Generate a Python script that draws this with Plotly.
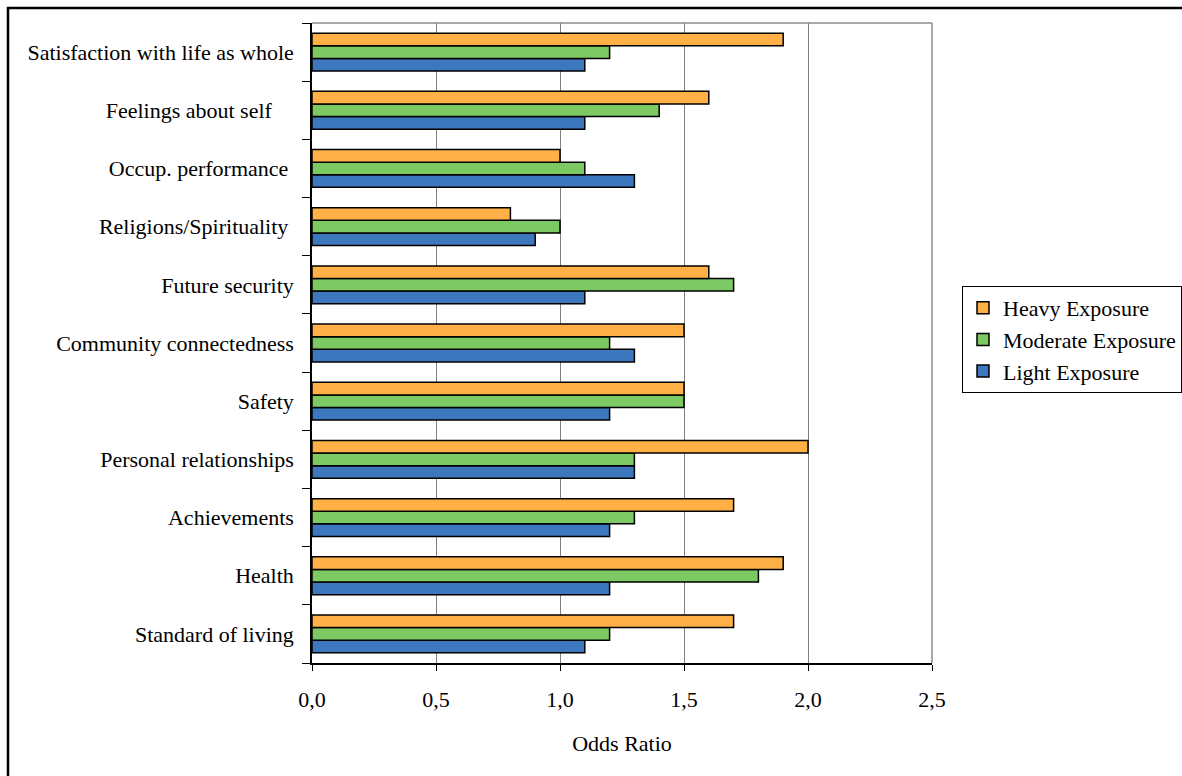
import plotly.graph_objects as go

# Quality-of-life domains, listed bottom to top as they appear on the axis
categories = [
    "Standard of living",
    "Health",
    "Achievements",
    "Personal relationships",
    "Safety",
    "Community connectedness",
    "Future security",
    "Religions/Spirituality",
    "Occup. performance",
    "Feelings about self",
    "Satisfaction with life as whole",
]

light = [1.1, 1.2, 1.2, 1.3, 1.2, 1.3, 1.1, 0.9, 1.3, 1.1, 1.1]
moderate = [1.2, 1.8, 1.3, 1.3, 1.5, 1.2, 1.7, 1.0, 1.1, 1.4, 1.2]
heavy = [1.7, 1.9, 1.7, 2.0, 1.5, 1.5, 1.6, 0.8, 1.0, 1.6, 1.9]

series_names = ["Light Exposure", "Moderate Exposure", "Heavy Exposure"]
x_ticks = [0.0, 0.5, 1.0, 1.5, 2.0, 2.5]

# trailing padding on a few labels, as in the original layout
pad = {"Feelings about self": 4, "Occup. performance": 1, "Religions/Spirituality": 1}
y_labels = [c + "\u00a0" * pad.get(c, 0) for c in categories]

colors = {"Light Exposure": "#3D77BD", "Moderate Exposure": "#7DC963", "Heavy Exposure": "#FFB047"}
FONT = "Liberation Serif, Times New Roman, serif"

W, H = 1182, 776
L, R, T, B = 312, 932, 23, 663

fig = go.Figure()
for name, vals in zip(series_names, [light, moderate, heavy]):
    fig.add_trace(go.Bar(
        y=y_labels, x=vals, name=name, orientation="h", legendgroup=name,
        marker=dict(color=colors[name], line=dict(color="black", width=1.5)),
    ))

def px_x(p):
    return (p - L) / (R - L)

def px_y(p):
    return (B - p) / (B - T)

shapes = [
    # plot-area top and right edges in grey
    dict(type="line", xref="paper", yref="paper", x0=0, x1=1, y0=1, y1=1,
         line=dict(color="#8C8C8C", width=1.5)),
    dict(type="line", xref="paper", yref="paper", x0=1, x1=1, y0=0, y1=1,
         line=dict(color="#8C8C8C", width=1.5)),
    # outer frame of the chart
    dict(type="rect", xref="paper", yref="paper",
         x0=px_x(8), x1=px_x(W + 40), y0=px_y(H + 40), y1=px_y(8),
         line=dict(color="black", width=2.5)),
]

fig.update_layout(
    width=W, height=H,
    margin=dict(l=L, r=W - R, t=T, b=H - B, pad=0, autoexpand=False),
    paper_bgcolor="white", plot_bgcolor="white",
    barmode="group", bargap=0.35, bargroupgap=0,
    separators=", ",
    font=dict(family=FONT, size=22, color="black"),
    showlegend=True,
    legend=dict(
        x=px_x(962), y=px_y(286), xanchor="left", yanchor="top",
        traceorder="reversed", bordercolor="black", borderwidth=1,
        bgcolor="white", font=dict(family=FONT, size=22, color="black"),
        itemwidth=30, tracegroupgap=6,
    ),
    xaxis=dict(
        range=[0, 2.5], tickvals=x_ticks, tickformat=".1f",
        showgrid=True, gridcolor="#808080", gridwidth=1,
        showline=True, linecolor="black", linewidth=1.5,
        ticks="outside", ticklen=6, tickcolor="black", tickwidth=1,
        ticklabelstandoff=10, zeroline=False,
        title=dict(text="Odds Ratio", standoff=24, font=dict(size=22)),
    ),
    yaxis=dict(
        type="category", categoryorder="array", categoryarray=y_labels,
        tickson="boundaries", showgrid=False,
        showline=True, linecolor="black", linewidth=1.5,
        ticks="outside", ticklen=8, tickcolor="black", tickwidth=1,
        ticklabelstandoff=12, zeroline=False,
    ),
    shapes=shapes,
)

fig.write_html("out.html")
